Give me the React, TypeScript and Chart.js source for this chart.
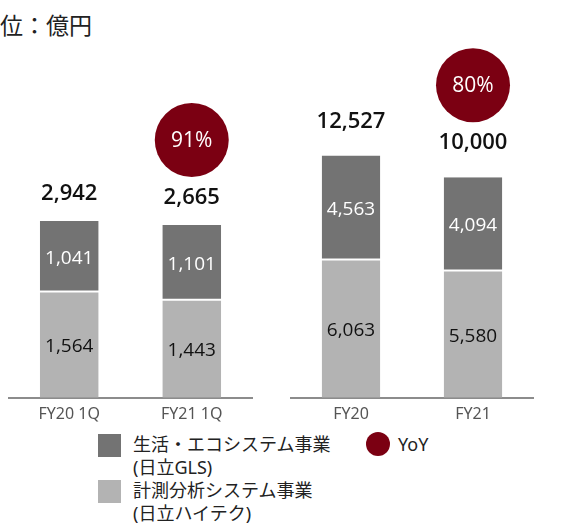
import React, { useEffect, useRef } from "react";
import { Chart, registerables } from "chart.js";
Chart.register(...registerables);

const FONT = '"Noto Sans", "Noto Sans CJK JP", sans-serif';
const NUMFONT = '"Open Sans", "Noto Sans", sans-serif';

// Quarterly (FY 1Q)
const categoriesQ = ["FY20 1Q", "FY21 1Q"];
const measureQ = [1564, 1443]; // 計測分析システム事業 (日立ハイテク)
const lifeQ = [1041, 1101]; // 生活・エコシステム事業 (日立GLS)
const totalQ = [2942, 2665];
const yoyQ: (number | null)[] = [null, 91];

// Full year
const categoriesY = ["FY20", "FY21"];
const measureY = [6063, 5580];
const lifeY = [4563, 4094];
const totalY = [12527, 10000];
const yoyY: (number | null)[] = [null, 80];

const legendLife = ["生活・エコシステム事業", "(日立GLS)"];
const legendMeasure = ["計測分析システム事業", "(日立ハイテク)"];
const legendYoY = "YoY";
const unitLabel = "位：億円";

const DARK = "#737373";
const LIGHT = "#b3b3b3";
const RED = "#7b0012";

const fmt = (v: number) => v.toLocaleString("en-US");

function labelsPlugin(
  low: number[],
  high: number[],
  totals: number[],
  yoy: (number | null)[],
  totalOffset: number
) {
  return {
    id: "barLabels",
    afterDatasetsDraw(chart: any) {
      const ctx = chart.ctx;
      const m0 = chart.getDatasetMeta(0);
      const m1 = chart.getDatasetMeta(1);
      ctx.save();
      ctx.textAlign = "center";
      ctx.textBaseline = "middle";
      m0.data.forEach((b0: any, i: number) => {
        const b1 = m1.data[i];
        ctx.font = `500 19px ${NUMFONT}`;
        ctx.fillStyle = "#111";
        ctx.fillText(fmt(low[i]), b0.x, (b0.y + b0.base) / 2 + 2);
        ctx.fillStyle = "#fff";
        ctx.fillText(fmt(high[i]), b1.x, (b1.y + b1.base) / 2 + 2);
        const ty = b1.y - totalOffset;
        ctx.font = `600 22px ${NUMFONT}`;
        ctx.fillStyle = "#111";
        ctx.fillText(fmt(totals[i]), b1.x, ty);
        const y = yoy[i];
        if (y != null) {
          const cy = ty - 58;
          ctx.beginPath();
          ctx.arc(b1.x, cy, 37, 0, Math.PI * 2);
          ctx.fillStyle = RED;
          ctx.fill();
          ctx.font = `500 21px ${NUMFONT}`;
          ctx.fillStyle = "#fff";
          ctx.fillText(`${y}%`, b1.x, cy + 1);
        }
      });
      ctx.restore();
    },
  };
}

function makeConfig(
  cats: string[],
  low: number[],
  high: number[],
  totals: number[],
  yoy: (number | null)[],
  ymax: number,
  totalOffset: number
): any {
  return {
    type: "bar",
    data: {
      labels: cats,
      datasets: [
        {
          label: legendMeasure.join(""),
          data: low,
          backgroundColor: LIGHT,
          borderColor: "#fff",
          borderWidth: { top: 1, bottom: 0, left: 0, right: 0 },
          borderSkipped: false,
          barPercentage: 0.48,
          categoryPercentage: 1,
        },
        {
          label: legendLife.join(""),
          data: high,
          backgroundColor: DARK,
          borderColor: "#fff",
          borderWidth: { top: 0, bottom: 1, left: 0, right: 0 },
          borderSkipped: false,
          barPercentage: 0.48,
          categoryPercentage: 1,
        },
      ],
    },
    options: {
      responsive: false,
      animation: false,
      devicePixelRatio: 1,
      layout: { padding: 0 },
      plugins: { legend: { display: false }, tooltip: { enabled: false } },
      scales: {
        x: {
          stacked: true,
          grid: { display: false, drawTicks: false },
          border: { display: true, color: "#8c8c8c", width: 2 },
          ticks: {
            color: "#555",
            font: { family: FONT, size: 16 },
            padding: 7,
          },
        },
        y: {
          stacked: true,
          display: false,
          min: 0,
          max: ymax,
        },
      },
    },
    plugins: [labelsPlugin(low, high, totals, yoy, totalOffset)],
  };
}

function BarChart(props: { config: any; left: number; width: number; height: number }) {
  const ref = useRef<HTMLCanvasElement>(null);
  useEffect(() => {
    const chart = new Chart(ref.current as HTMLCanvasElement, props.config);
    return () => chart.destroy();
  }, []);
  return (
    <canvas
      ref={ref}
      width={props.width}
      height={props.height}
      style={{ position: "absolute", left: props.left, top: 0, width: props.width, height: props.height }}
    />
  );
}

export default function App() {
  const cfgQ = makeConfig(categoriesQ, measureQ, lifeQ, totalQ, yoyQ, 396 / 0.0676, 27);
  const cfgY = makeConfig(categoriesY, measureY, lifeY, totalY, yoyY, 396 / 0.0227, 34);
  const textStyle: React.CSSProperties = {
    position: "absolute",
    fontFamily: FONT,
    fontSize: 18,
    lineHeight: "23px",
    color: "#222",
    whiteSpace: "nowrap",
  };
  return (
    <div
      style={{
        position: "fixed",
        left: 0,
        top: 0,
        width: 569,
        height: 523,
        background: "#fff",
        overflow: "hidden",
      }}
    >
      <div style={{ ...textStyle, left: 0, top: 10, fontSize: 23, lineHeight: "30px" }}>{unitLabel}</div>
      <BarChart config={cfgQ} left={8} width={245} height={431} />
      <BarChart config={cfgY} left={290} width={244} height={431} />
      <div style={{ position: "absolute", left: 98, top: 434, width: 23, height: 23, background: DARK }} />
      <div style={{ ...textStyle, left: 133, top: 433 }}>
        {legendLife[0]}
        <br />
        {legendLife[1]}
      </div>
      <div style={{ position: "absolute", left: 98, top: 480, width: 23, height: 23, background: LIGHT }} />
      <div style={{ ...textStyle, left: 133, top: 479 }}>
        {legendMeasure[0]}
        <br />
        {legendMeasure[1]}
      </div>
      <div
        style={{
          position: "absolute",
          left: 366,
          top: 432,
          width: 24,
          height: 24,
          borderRadius: "50%",
          background: RED,
        }}
      />
      <div style={{ ...textStyle, left: 398, top: 433 }}>{legendYoY}</div>
    </div>
  );
}
